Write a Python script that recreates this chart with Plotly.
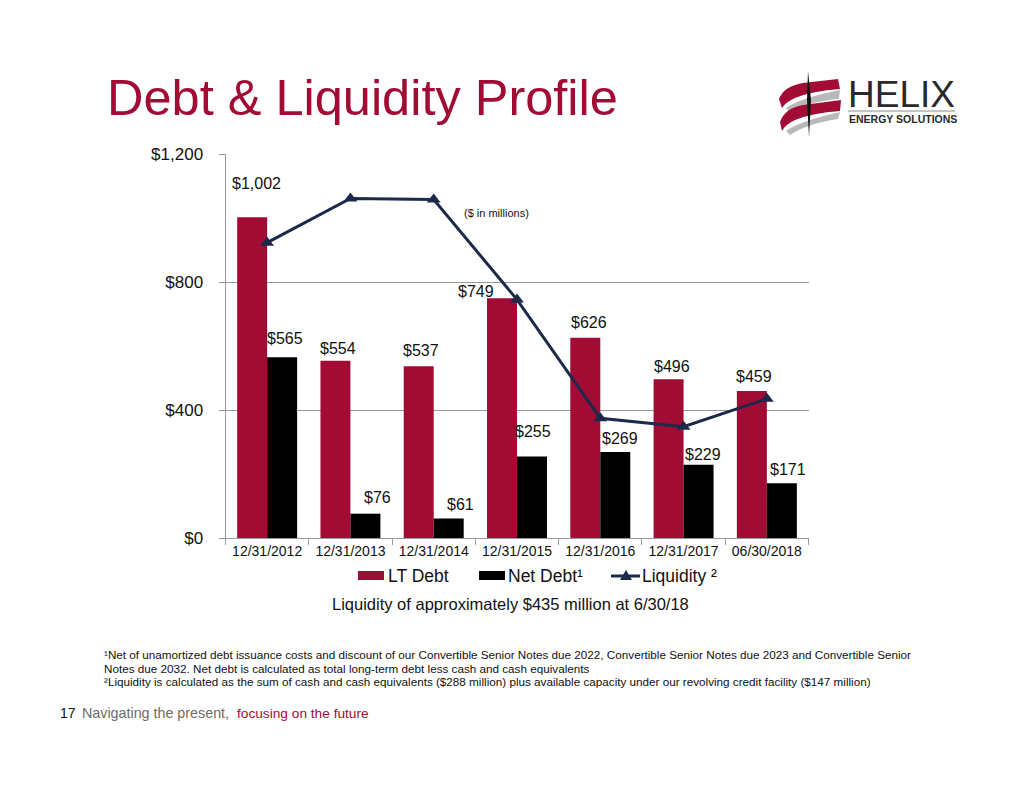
import plotly.graph_objects as go

# chart data ($ millions)
dates = ["12/31/2012", "12/31/2013", "12/31/2014", "12/31/2015",
         "12/31/2016", "12/31/2017", "06/30/2018"]
lt_debt = [1002, 554, 537, 749, 626, 496, 459]
net_debt = [565, 76, 61, 255, 269, 229, 171]
liquidity = [923, 1061, 1058, 745, 374, 348, 435]

y_ticks = [0, 400, 800, 1200]
y_tick_text = ["$0", "$400", "$800", "$1,200"]

# label nudges in pixels (dx, dy from the top centre of each bar)
lt_dx = [4, 3, 2, -26, 4, 3, 2]
lt_dy = [-34, -12, -16, -7, -15, -13, -15]
net_dx = [3, 12, 12, 1, 5, 4, 6]
net_dy = [-19, -16, -14, -25, -13, -10, -14]

# the page body adds an 8px margin, so the figure is made 8px smaller
OFF = 8
W, H = 1024 - OFF, 791 - OFF
CRIMSON = "#A20B33"
NAVY = "#1B2A4A"
GRID = "#9A9A9A"
FONT = "Liberation Sans, Arial, sans-serif"


def px(x):
    return (x - OFF) / W


def py(y):
    return 1 - (y - OFF) / H


def pth(spec):
    # pixel path -> paper path
    out = []
    for tok in spec.split():
        if "," in tok:
            a, b = tok.split(",")
            out.append(f"{px(float(a)):.5f},{py(float(b)):.5f}")
        else:
            out.append(tok)
    return " ".join(out)


fig = go.Figure()

fig.add_trace(go.Bar(x=dates, y=lt_debt, name="LT Debt",
                     marker=dict(color=CRIMSON, line=dict(width=0))))
fig.add_trace(go.Bar(x=dates, y=net_debt, name="Net Debt¹",
                     marker=dict(color="#000000", line=dict(width=0))))
fig.add_trace(go.Scatter(x=dates, y=liquidity, name="Liquidity ²",
                         mode="lines+markers",
                         line=dict(color=NAVY, width=3),
                         marker=dict(symbol="triangle-up", size=12, color=NAVY)))

# data labels
ann = []
for d, v, dx, dy in zip(dates, lt_debt, lt_dx, lt_dy):
    ann.append(dict(x=d, y=v, xref="x", yref="y", text=f"${v:,}", showarrow=False,
                    xshift=-15 + dx, yshift=-dy, font=dict(size=16, color="#111111")))
for d, v, dx, dy in zip(dates, net_debt, net_dx, net_dy):
    ann.append(dict(x=d, y=v, xref="x", yref="y", text=f"${v:,}", showarrow=False,
                    xshift=15 + dx, yshift=-dy, font=dict(size=16, color="#111111")))


def note(x, y, text, size, color="#111111", anchor="left", family=FONT):
    ann.append(dict(x=px(x), y=py(y), xref="paper", yref="paper", text=text,
                    showarrow=False, xanchor=anchor, yanchor="middle",
                    font=dict(size=size, color=color, family=family)))


note(105, 98, "Debt & Liquidity Profile", 50.5, CRIMSON)
note(496, 213, "($ in millions)", 11, anchor="center")

# legend
note(386, 576, "LT Debt", 17.5)
note(506, 576, "Net Debt¹", 17.5)
note(640, 576, "Liquidity ²", 17.5)
note(510, 604, "Liquidity of approximately $435 million at 6/30/18", 16.5, anchor="center")

# footnotes
note(102, 654, "¹Net of unamortized debt issuance costs and discount of our Convertible "
     "Senior Notes due 2022, Convertible Senior Notes due 2023 and Convertible Senior",
     11.7)
note(102, 668, "Notes due 2032. Net debt is calculated as total long-term debt less cash "
     "and cash equivalents", 11.7)
note(102, 681, "²Liquidity is calculated as the sum of cash and cash equivalents "
     "($288 million) plus available capacity under our revolving credit facility ($147 million)",
     11.7)

# page footer
note(58, 713, "17", 14)
note(80, 713, "Navigating the present,", 14.3, "#6b6b6b")
note(235, 713, "focusing on the future", 13.7, CRIMSON)

# logo text
note(846, 94, "HELIX", 37, "#2a2a2a")
note(847, 119, "<b>ENERGY SOLUTIONS</b>", 10.5, "#2a2a2a")

shapes = [
    # legend keys
    dict(type="rect", xref="paper", yref="paper", x0=px(358), x1=px(384),
         y0=py(580), y1=py(571), fillcolor=CRIMSON, line=dict(width=0)),
    dict(type="rect", xref="paper", yref="paper", x0=px(479), x1=px(505),
         y0=py(580), y1=py(571), fillcolor="#000000", line=dict(width=0)),
    dict(type="line", xref="paper", yref="paper", x0=px(611), x1=px(640),
         y0=py(576), y1=py(576), line=dict(color=NAVY, width=3)),
    dict(type="path", xref="paper", yref="paper",
         path=pth("M 620,580 L 632,580 L 626,570 Z"), fillcolor=NAVY, line=dict(width=0)),
    # logo underline
    dict(type="line", xref="paper", yref="paper", x0=px(848), x1=px(955),
         y0=py(111), y1=py(111), line=dict(color="#8a8a8a", width=1)),
    # logo swirl: grey back sides
    dict(type="path", xref="paper", yref="paper",
         path=pth("M 786,108 Q 800,98 840,90 L 839,99 Q 806,102 790,113 Z"),
         fillcolor="#b9b9b9", line=dict(width=0)),
    dict(type="path", xref="paper", yref="paper",
         path=pth("M 786,131 Q 800,121 840,112 L 838,119 Q 806,124 790,135 Z"),
         fillcolor="#b9b9b9", line=dict(width=0)),
    # crimson bands
    dict(type="path", xref="paper", yref="paper",
         path=pth("M 779,99 Q 784,86 803,83 L 838,79 L 840,89 Q 812,91 795,98 Q 786,102 782,108 Z"),
         fillcolor=CRIMSON, line=dict(width=0)),
    dict(type="path", xref="paper", yref="paper",
         path=pth("M 780,122 Q 785,108 803,105 L 841,100 L 840,111 Q 812,113 795,120 Q 786,124 782,131 Z"),
         fillcolor=CRIMSON, line=dict(width=0)),
    # spike
    dict(type="path", xref="paper", yref="paper",
         path=pth("M 808,71 L 811,100 L 809,137 L 807,100 Z"),
         fillcolor="#111111", line=dict(width=0)),
]

fig.update_layout(
    width=W, height=H,
    margin=dict(l=0, r=0, t=0, b=0),
    paper_bgcolor="white", plot_bgcolor="white",
    font=dict(family=FONT, color="#111111"),
    barmode="group", bargap=0.28, bargroupgap=0,
    showlegend=False,
    annotations=ann,
    shapes=shapes,
)

fig.update_xaxes(
    domain=[px(225.5), px(808.5)],
    automargin=False,
    showline=True, linecolor=GRID, linewidth=1,
    ticks="outside", tickson="boundaries", ticklen=6, tickcolor=GRID,
    tickfont=dict(size=14, color="#111111"),
    showgrid=False,
)
fig.update_yaxes(
    domain=[py(538), py(154)],
    automargin=False,
    range=[0, 1200],
    tickvals=y_ticks, ticktext=y_tick_text,
    tickfont=dict(size=17, color="#111111"),
    showline=True, linecolor=GRID, linewidth=1,
    ticks="outside", ticklen=6, tickcolor=GRID,
    ticklabelstandoff=12,
    showgrid=True, gridcolor=GRID, gridwidth=1,
    zeroline=False,
)

fig.write_html("out.html")
